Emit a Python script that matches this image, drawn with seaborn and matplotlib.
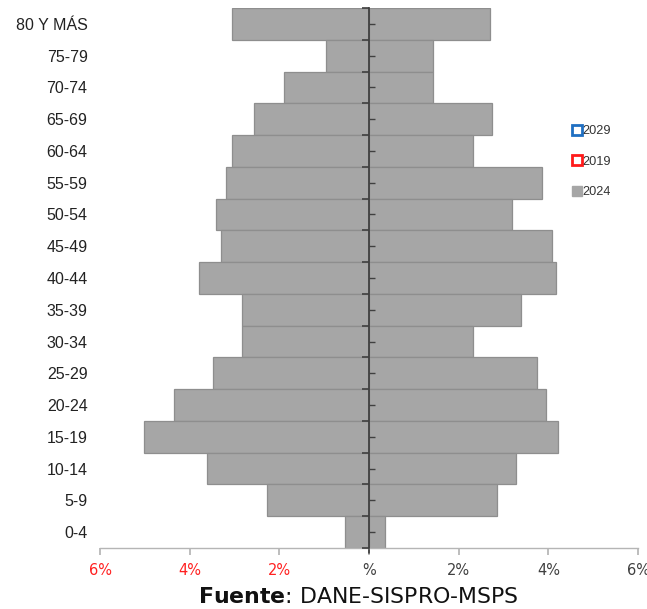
import matplotlib
matplotlib.use("Agg")
import matplotlib.pyplot as plt
from matplotlib.lines import Line2D
import seaborn as sns
import pandas as pd
import numpy as np

grupos = ["80 Y MÁS", "75-79", "70-74", "65-69", "60-64", "55-59", "50-54",
          "45-49", "40-44", "35-39", "30-34", "25-29", "20-24", "15-19",
          "10-14", "5-9", "0-4"]
hombres_2024 = [3.06, 0.96, 1.90, 2.57, 3.06, 3.20, 3.42, 3.31, 3.80, 2.84,
                2.84, 3.47, 4.36, 5.01, 3.62, 2.28, 0.54]
mujeres_2024 = [2.71, 1.43, 1.43, 2.75, 2.33, 3.85, 3.18, 4.09, 4.16, 3.38,
                2.33, 3.74, 3.94, 4.21, 3.27, 2.86, 0.36]
xticks = [-6, -4, -2, 0, 2, 4, 6]
xtick_labels = ["6%", "4%", "2%", "%", "2%", "4%", "6%"]
legend_labels = ["2029", "2019", "2024"]
fuente = "DANE-SISPRO-MSPS"

df = pd.DataFrame({
    "grupo": grupos * 2,
    "valor": [-v for v in hombres_2024] + mujeres_2024,
    "sexo": ["Hombres"] * len(grupos) + ["Mujeres"] * len(grupos),
})

sns.set_theme(style="white")
plt.rcParams["font.family"] = ["Liberation Sans", "DejaVu Sans"]
plt.rcParams["mathtext.fontset"] = "dejavusans"

fig = plt.figure(figsize=(6.47, 6.09), dpi=100)
pos = [100 / 647, 1 - 548 / 609, 538 / 647, 540 / 609]
ax = fig.add_axes(pos)

gray = "#a6a6a6"
sns.barplot(data=df, y="grupo", x="valor", hue="sexo", order=grupos,
            palette={"Hombres": gray, "Mujeres": gray}, dodge=False,
            width=1.0, edgecolor="#8e8e8e", linewidth=0.9, legend=False,
            orient="h", ax=ax, saturation=1)

n = len(grupos)
ax.set_xlim(-6, 6)
ax.set_ylim(n - 0.5, -0.5)
ax.set_xlabel("")
ax.set_ylabel("")
for s in ["top", "right", "left"]:
    ax.spines[s].set_visible(False)
ax.spines["bottom"].set_color("#b5b5b5")
ax.spines["bottom"].set_linewidth(1.0)

ax.set_xticks(xticks)
ax.set_xticklabels(xtick_labels, fontsize=10.5, family="DejaVu Sans")
for lab, v in zip(ax.get_xticklabels(), xticks):
    lab.set_color("#ff2020" if v < 0 else "#404040")
ax.tick_params(axis="x", bottom=True, length=5, color="#b5b5b5", pad=6)
ax.tick_params(axis="y", left=False, length=0, pad=9, labelsize=11.5,
               labelcolor="#222222")

# central axis with ticks (twin axes whose right spine sits at x = 0)
ax2 = ax.twinx()
ax2.set_ylim(n - 0.5, -0.5)
for s in ["top", "left", "bottom"]:
    ax2.spines[s].set_visible(False)
ax2.spines["right"].set_position(("data", 0))
ax2.spines["right"].set_color("#404040")
ax2.spines["right"].set_linewidth(1.3)
ax2.set_yticks(np.arange(-0.5, n, 1.0))
ax2.set_yticks(np.arange(0, n, 1.0), minor=True)
ax2.set_yticklabels([])
ax2.set_yticklabels([], minor=True)
ax2.tick_params(which="major", axis="y", direction="in", length=5, width=1.2,
                color="#404040", right=True, labelright=False)
ax2.tick_params(which="minor", axis="y", direction="out", length=4, width=1.0,
                color="#404040", right=True, labelright=False)
ax2.grid(False)
ax.plot([0, 0], [n - 0.5, n - 0.33], color="#404040", lw=1.3, clip_on=False)

# legend
handles = [
    Line2D([], [], ls="", marker="s", markersize=6.5, markerfacecolor="white",
           markeredgecolor="#1f6fc2", markeredgewidth=2.0),
    Line2D([], [], ls="", marker="s", markersize=6.5, markerfacecolor="white",
           markeredgecolor="#ff1a1a", markeredgewidth=2.0),
    Line2D([], [], ls="", marker="s", markersize=6.5, markerfacecolor=gray,
           markeredgecolor=gray),
]
fig.legend(handles, legend_labels, loc="upper left",
           bbox_to_anchor=(567 / 647, 1 - 119 / 609), frameon=False,
           fontsize=9.2, handlelength=0.6, handletextpad=0.1,
           labelspacing=1.45, borderpad=0, labelcolor="#333333")

fig.text(358 / 647, 1 - 597 / 609, r"$\bf{Fuente}$: " + fuente, ha="center",
         va="center", fontsize=15.8, family="DejaVu Sans", color="#111111")

fig.savefig("out.png", dpi=100)
